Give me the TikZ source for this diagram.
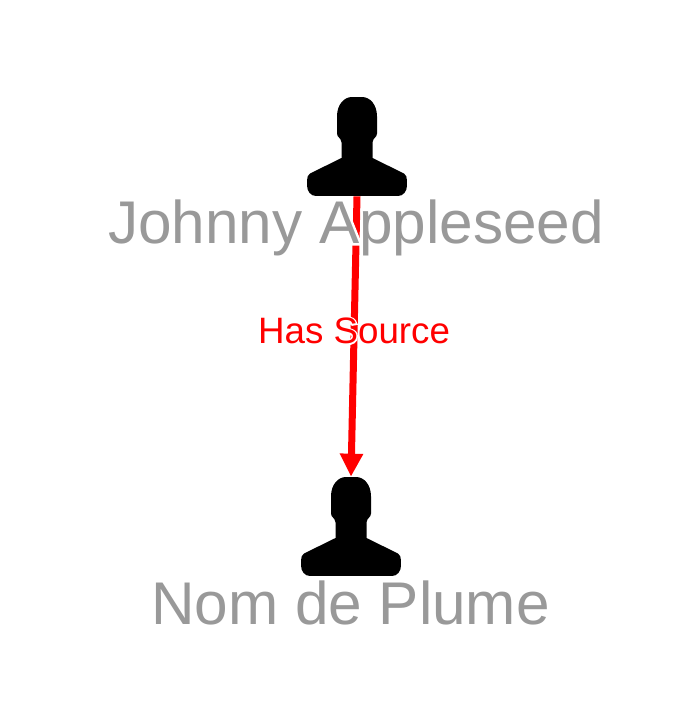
\documentclass[tikz,border=0pt]{standalone}
\usepackage{fontspec}
\setmainfont{Liberation Sans}
\newfontfamily\halofont[FakeBold=8]{Liberation Sans}
\usetikzlibrary{arrows.meta}
\definecolor{labelgray}{HTML}{999999}
% white outline behind a text, same width as the text itself
\newcommand\halotext[1]{\makebox[0pt][l]{\color{white}\halofont #1}#1}
\tikzset{
	person/.style={minimum width=2cm, minimum height=1.98cm, inner sep=0pt, path picture={
		\fill[black] (-20,-30) .. controls (-20,-42) and (-13,-49.5) .. (-5,-49.5) -- (5,-49.5)
			.. controls (13,-49.5) and (20,-42) .. (20,-30) -- (20,-13) .. controls (20,-9) and (16,-9) .. (15.5,-4)
			-- (15.5,11.5) -- (47,27) .. controls (49,28) and (50,31) .. (50,34) -- (50,39)
			.. controls (50,45) and (46,49.5) .. (41,49.5) -- (-41,49.5)
			.. controls (-46,49.5) and (-50,45) .. (-50,39) -- (-50,34) .. controls (-50,31) and (-49,28) .. (-47,27)
			-- (-15.5,11.5) -- (-15.5,-4) .. controls (-16,-9) and (-20,-9) .. (-20,-13) -- cycle;
	}},
	namelabel/.style={inner sep=0pt, text=labelgray, font=\fontsize{34.3pt}{40pt}\selectfont},
	edgelabel/.style={inner sep=0pt, text=red, font=\fontsize{20.9pt}{25pt}\selectfont},
	hassource/.style={draw=red, line width=0.14cm, -{Triangle[width=0.44cm,length=0.46cm]}}
}
\begin{document}
\begin{tikzpicture}[x=0.02cm, y=-0.02cm]
	\useasboundingbox (0,0) rectangle (682,710);
	
	\node[person] (johnny) at (357,146.5) {};
	\node[person] (plume) at (351,526.5) {};
	
	\draw[hassource] (johnny.south) -- node[edgelabel, pos=0.48] (source) {\halotext{Has Source}} (plume.north);
	
	\node[namelabel] (johnnylabel) at (356,227.5) {\halotext{Johnny Appleseed}};
	\node[namelabel] (plumelabel) at (350.5,603) {\halotext{Nom de Plume}};
\end{tikzpicture}
\end{document}
